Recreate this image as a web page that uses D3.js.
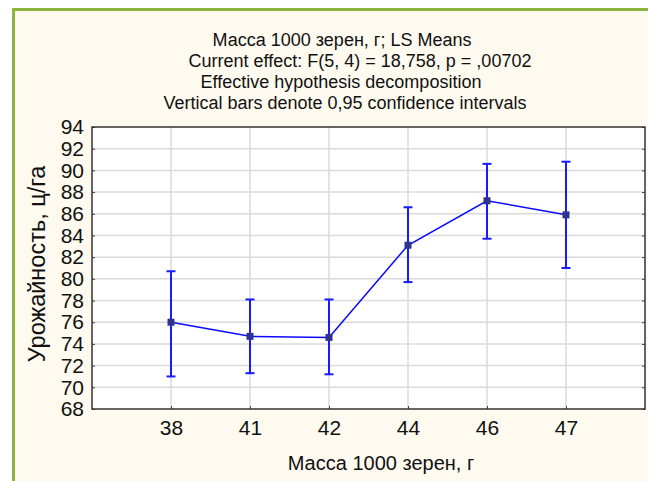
<!DOCTYPE html>
<html>
<head>
<meta charset="utf-8">
<script src="https://cdn.jsdelivr.net/npm/d3@7"></script>
<style>
body { margin: 0; background: #fff; }
text { font-family: "Liberation Sans", Arial, sans-serif; fill: #111; }
</style>
</head>
<body>
<svg id="chart"></svg>
<script>
// data
var categories = ["38", "41", "42", "44", "46", "47"];
var means = [76.0, 74.7, 74.6, 83.1, 87.2, 85.9];
var lower = [71.0, 71.3, 71.2, 79.7, 83.7, 81.0];
var upper = [80.7, 78.1, 78.1, 86.6, 90.6, 90.8];
var yTicks = [68, 70, 72, 74, 76, 78, 80, 82, 84, 86, 88, 90, 92, 94];
var titleLines = [
  "Масса 1000 зерен, г; LS Means",
  "Current effect: F(5, 4) = 18,758, p = ,00702",
  "Effective hypothesis decomposition",
  "Vertical bars denote 0,95 confidence intervals"
];
var titleX = [342, 360, 341, 345];

var W = 648, H = 481;
var pLeft = 92, pRight = 645, pTop = 127, pBottom = 409;

var svg = d3.select("#chart").attr("width", W).attr("height", H);

// panel + green frame
svg.append("rect").attr("x", 13).attr("y", 9).attr("width", W - 13).attr("height", H - 9)
  .attr("fill", "#fefaef");
svg.append("path").attr("d", "M13.5," + H + "V9.5H" + W)
  .attr("fill", "none").attr("stroke", "#8db43c").attr("stroke-width", 3);

var x = d3.scalePoint().domain(categories).range([pLeft, pRight]).padding(1);
var y = d3.scaleLinear().domain([68, 94]).range([pBottom, pTop]);

svg.append("rect").attr("x", pLeft).attr("y", pTop)
  .attr("width", pRight - pLeft).attr("height", pBottom - pTop).attr("fill", "#fff");

// grid
svg.append("g").selectAll("line").data(yTicks.slice(1, -1)).enter().append("line")
  .attr("x1", pLeft).attr("x2", pRight)
  .attr("y1", function(d){return y(d);}).attr("y2", function(d){return y(d);})
  .attr("stroke", "#dadada").attr("stroke-width", 1.5);
svg.append("g").selectAll("line").data(categories).enter().append("line")
  .attr("x1", function(d){return x(d);}).attr("x2", function(d){return x(d);})
  .attr("y1", pTop).attr("y2", pBottom)
  .attr("stroke", "#dadada").attr("stroke-width", 1.5);

// axes (ticks pointing inward)
svg.append("g").attr("transform", "translate(" + pLeft + ",0)")
  .call(d3.axisRight(y).tickValues(yTicks).tickSize(3).tickFormat(""));
var yLabels = svg.append("g").attr("transform", "translate(" + pLeft + ",0)")
  .call(d3.axisLeft(y).tickValues(yTicks).tickSize(0).tickPadding(8));
yLabels.selectAll("text").style("font-size", "21px").attr("fill", "#111")
  .style("font-family", "'Liberation Sans', Arial, sans-serif");

svg.append("g").attr("transform", "translate(" + pRight + ",0)")
  .call(d3.axisLeft(y).tickValues(yTicks).tickSize(3).tickFormat(""));

svg.append("g").attr("transform", "translate(0," + pBottom + ")")
  .call(d3.axisTop(x).tickSize(3).tickFormat(""));
var xLabels = svg.append("g").attr("transform", "translate(0," + pBottom + ")")
  .call(d3.axisBottom(x).tickSize(0).tickPadding(11));
xLabels.selectAll("text").style("font-size", "21px").attr("fill", "#111")
  .style("font-family", "'Liberation Sans', Arial, sans-serif");

svg.selectAll(".tick line").attr("stroke", "#444");
svg.selectAll(".domain").remove();

svg.append("rect").attr("x", pLeft).attr("y", pTop)
  .attr("width", pRight - pLeft).attr("height", pBottom - pTop)
  .attr("fill", "none").attr("stroke", "#333").attr("stroke-width", 1.5);

// error bars
var eb = svg.append("g").attr("stroke", "#1a1aff").attr("stroke-width", 2);
categories.forEach(function(c, i) {
  eb.append("line").attr("x1", x(c)).attr("x2", x(c)).attr("y1", y(lower[i])).attr("y2", y(upper[i]));
  eb.append("line").attr("x1", x(c) - 4.5).attr("x2", x(c) + 4.5).attr("y1", y(lower[i])).attr("y2", y(lower[i]));
  eb.append("line").attr("x1", x(c) - 4.5).attr("x2", x(c) + 4.5).attr("y1", y(upper[i])).attr("y2", y(upper[i]));
});

// mean line
var line = d3.line().x(function(d, i){return x(categories[i]);}).y(function(d){return y(d);});
svg.append("path").datum(means).attr("d", line)
  .attr("fill", "none").attr("stroke", "#0a0aff").attr("stroke-width", 1.5);

svg.append("g").selectAll("rect").data(means).enter().append("rect")
  .attr("x", function(d, i){return x(categories[i]) - 3.5;})
  .attr("y", function(d){return y(d) - 3.5;})
  .attr("width", 7).attr("height", 7).attr("fill", "#2c3490");

// titles
svg.append("g").selectAll("text").data(titleLines).enter().append("text")
  .attr("x", function(d, i){return titleX[i];})
  .attr("y", function(d, i){return 46 + i * 21;})
  .attr("text-anchor", "middle").style("font-size", "18px")
  .text(function(d){return d;});

svg.append("text").attr("transform", "translate(45," + ((pTop + pBottom) / 2 - 4) + ") rotate(-90)")
  .attr("text-anchor", "middle").style("font-size", "23.5px")
  .text("Урожайность, ц/га");

svg.append("text").attr("x", 381).attr("y", 470)
  .attr("text-anchor", "middle").style("font-size", "20px")
  .text("Масса 1000 зерен, г");
</script>
</body>
</html>
